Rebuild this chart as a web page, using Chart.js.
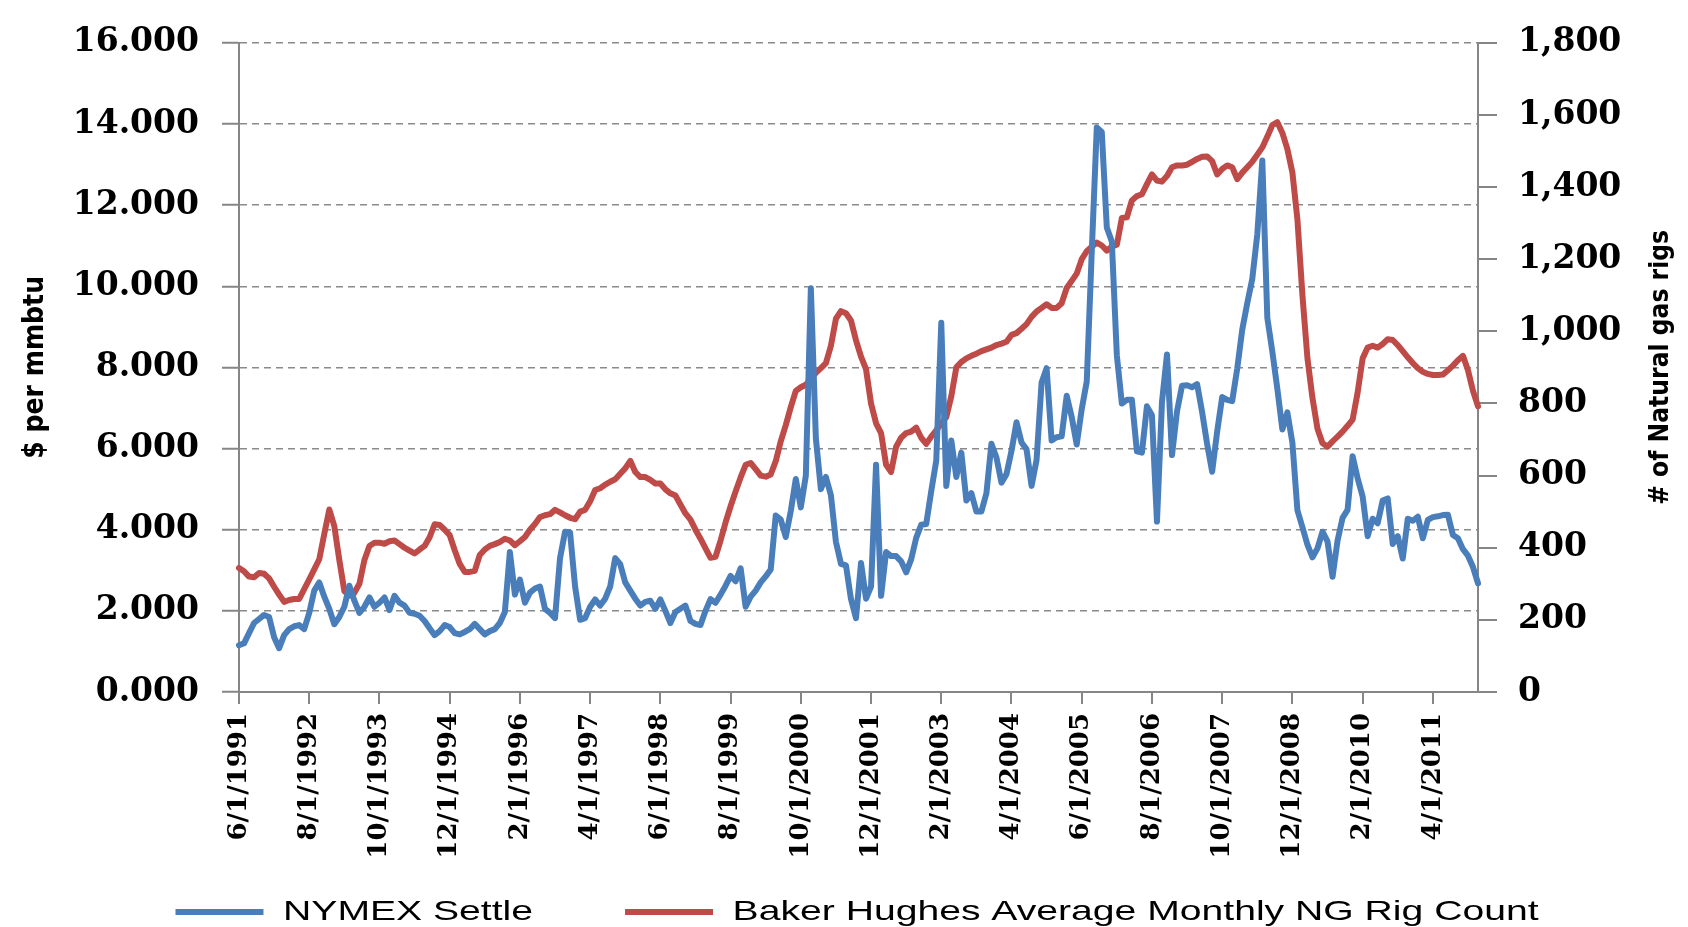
<!DOCTYPE html>
<html>
<head>
<meta charset="utf-8">
<title>NYMEX Settle vs Baker Hughes NG Rig Count</title>
<script src="https://cdn.jsdelivr.net/npm/chart.js@4.4.1/dist/chart.umd.min.js"></script>
<style>
  html, body { margin: 0; padding: 0; background: #ffffff; overflow: hidden; }
  #wrap { width: 1688px; height: 927px; }
  canvas { display: block; }
</style>
</head>
<body>
<div id="wrap"><canvas id="chart" width="1688" height="927"></canvas></div>
<script>
// ---------------- data ----------------
// monthly categories, 6/1/1991 ... 1/1/2012
const startYear = 1991, startMonth = 6, monthCount = 248;
const months = [];
for (let k = 0; k < monthCount; k++) {
  const m = (startMonth - 1 + k) % 12 + 1;
  const y = startYear + Math.floor((startMonth - 1 + k) / 12);
  months.push(m + '/1/' + y);
}

// category labels shown on the x axis
const xTickLabels = ['6/1/1991', '8/1/1992', '10/1/1993', '12/1/1994', '2/1/1996', '4/1/1997',
  '6/1/1998', '8/1/1999', '10/1/2000', '12/1/2001', '2/1/2003', '4/1/2004', '6/1/2005',
  '8/1/2006', '10/1/2007', '12/1/2008', '2/1/2010', '4/1/2011'];

const seriesNames = ['NYMEX Settle', 'Baker Hughes Average Monthly NG Rig Count'];
const leftAxisTitle = '$ per mmbtu';
const rightAxisTitle = '# of Natural gas rigs';

// $ per mmbtu (left axis)
const nymexSettle = [
  1.15, 1.2, 1.45, 1.7, 1.8, 1.9, 1.85,                               // 1991 Jun-Dec
  1.35, 1.08, 1.4, 1.55, 1.62, 1.65, 1.55, 1.95, 2.5, 2.7, 2.35, 2.05,  // 1992
  1.67, 1.85, 2.1, 2.62, 2.25, 1.95, 2.1, 2.33, 2.1, 2.2, 2.33, 2.02,   // 1993
  2.37, 2.2, 2.13, 1.95, 1.93, 1.88, 1.75, 1.57, 1.4, 1.5, 1.65, 1.6,   // 1994
  1.45, 1.42, 1.48, 1.55, 1.68, 1.55, 1.42, 1.5, 1.55, 1.7, 1.97, 3.45, // 1995
  2.4, 2.77, 2.2, 2.45, 2.55, 2.6, 2.05, 1.95, 1.82, 3.3, 3.95, 3.93,   // 1996
  2.6, 1.78, 1.82, 2.1, 2.28, 2.13, 2.3, 2.6, 3.3, 3.15, 2.7, 2.5,      // 1997
  2.3, 2.13, 2.22, 2.25, 2.05, 2.28, 2.0, 1.7, 1.97, 2.05, 2.13, 1.75,  // 1998
  1.68, 1.65, 2.0, 2.29, 2.2, 2.4, 2.62, 2.86, 2.73, 3.05, 2.1, 2.35,   // 1999
  2.5, 2.7, 2.85, 3.02, 4.35, 4.25, 3.82, 4.46, 5.25, 4.55, 5.33, 9.95, // 2000
  6.25, 5.0, 5.3, 4.85, 3.7, 3.16, 3.12, 2.29, 1.82, 3.18, 2.3, 2.6,    // 2001
  5.6, 2.37, 3.45, 3.35, 3.35, 3.22, 2.95, 3.27, 3.8, 4.12, 4.14, 4.95, // 2002
  5.7, 9.1, 5.08, 6.2, 5.3, 5.9, 4.72, 4.9, 4.45, 4.45, 4.9, 6.12,      // 2003
  5.78, 5.16, 5.37, 5.94, 6.65, 6.15, 5.98, 5.08, 5.72, 7.63, 7.98, 6.2, // 2004
  6.28, 6.3, 7.3, 6.78, 6.1, 6.97, 7.65, 10.85, 13.91, 13.8, 11.45, 11.1, // 2005
  8.3, 7.11, 7.2, 7.2, 5.93, 5.9, 7.04, 6.82, 4.2, 7.15, 8.32, 5.84,    // 2006
  6.92, 7.55, 7.56, 7.51, 7.59, 6.9, 6.11, 5.43, 6.42, 7.27, 7.2, 7.17, // 2007
  7.97, 8.93, 9.58, 10.18, 11.28, 13.1, 9.22, 8.39, 7.47, 6.47, 6.89, 6.14, // 2008
  4.48, 4.06, 3.63, 3.32, 3.54, 3.95, 3.71, 2.84, 3.73, 4.29, 4.49, 5.81, // 2009
  5.27, 4.82, 3.84, 4.27, 4.16, 4.72, 4.77, 3.65, 3.84, 3.29, 4.27, 4.22, // 2010
  4.32, 3.79, 4.24, 4.31, 4.33, 4.36, 4.37, 3.87, 3.79, 3.52, 3.36, 3.08, // 2011
  2.68                                                                 // 2012 Jan
];

// # of natural gas rigs (right axis)
const rigCount = [
  344, 335, 320, 318, 330, 328, 315,                                   // 1991 Jun-Dec
  292, 270, 250, 255, 258, 258, 285, 312, 340, 368, 438, 506,          // 1992
  460, 366, 280, 267, 275, 300, 366, 405, 414, 414, 411, 418,          // 1993
  420, 410, 400, 392, 384, 395, 405, 429, 465, 463, 450, 435,          // 1994
  393, 355, 333, 333, 336, 380, 395, 405, 410, 416, 425, 420,          // 1995
  407, 418, 430, 450, 466, 485, 490, 493, 505, 498, 490, 483,          // 1996
  479, 500, 505, 529, 560, 565, 575, 583, 590, 605, 620, 641,          // 1997
  610, 596, 596, 588, 578, 578, 562, 551, 545, 520, 495, 478,          // 1998
  450, 425, 398, 372, 375, 420, 470, 515, 556, 595, 630, 635,          // 1999
  618, 600, 597, 603, 640, 695, 740, 790, 835, 845, 852, 868,          // 2000
  885, 898, 912, 960, 1035, 1056, 1050, 1030, 975, 930, 895, 800,      // 2001
  745, 718, 630, 610, 680, 705, 718, 722, 733, 705, 688, 708,          // 2002
  725, 745, 762, 820, 900, 915, 925, 932, 938, 945, 950, 955,          // 2003
  962, 966, 971, 990, 995, 1007, 1020, 1040, 1055, 1065, 1075, 1065,   // 2004
  1065, 1078, 1120, 1140, 1160, 1200, 1222, 1235, 1246, 1238, 1224, 1235, // 2005
  1240, 1314, 1316, 1363, 1375, 1380, 1408, 1435, 1418, 1415, 1431, 1455, // 2006
  1460, 1460, 1462, 1470, 1478, 1484, 1485, 1472, 1435, 1450, 1460, 1455, // 2007
  1422, 1440, 1455, 1470, 1490, 1510, 1540, 1572, 1580, 1550, 1505, 1440, // 2008
  1310, 1100, 925, 815, 730, 690, 680, 695, 708, 722, 738, 755,        // 2009
  830, 925, 955, 960, 955, 965, 978, 976, 962, 945, 928, 912,          // 2010
  898, 888, 882, 879, 879, 880, 892, 905, 920, 932, 892, 835,          // 2011
  792                                                                  // 2012 Jan
];

// ---------------- style / layout ----------------
const BLUE = '#4a7ebb', RED = '#be4b48', AXIS_GRAY = '#868686', GRID_GRAY = '#8a8a8a';
const CW = 1688, CH = 927;
const PLOT = { left: 239, right: 1478, top: 27, bottom: 692 };
const TITLE_FAMILY = "'Liberation Sans Narrow', 'DejaVu Sans Condensed', 'Liberation Sans', sans-serif";
const TICK_FAMILY = "'DejaVu Serif', 'Liberation Serif', serif";
const LEGEND_FAMILY = "'Liberation Sans', Arial, sans-serif";

const mctx = document.createElement('canvas').getContext('2d');
function widthAt(text, font) { mctx.font = font; return mctx.measureText(text).width; }
function sizeForWidth(text, weight, family, target) {
  return 100 * target / widthAt(text, weight + ' 100px ' + family);
}
const leftTitleSize = sizeForWidth(leftAxisTitle, 'bold', TITLE_FAMILY, 183);
const rightTitleSize = sizeForWidth(rightAxisTitle, 'bold', TITLE_FAMILY, 275);
const LEFT_TITLE_X = 36, RIGHT_TITLE_INSET = 27;

const LEGEND_SIZE = 28;
const legendStretch = 250 / widthAt(seriesNames[0], LEGEND_SIZE + 'px ' + LEGEND_FAMILY);
const LEGEND_PAD = 92 / legendStretch;
const LEGEND_CENTER_X = 857;
const LEGEND_TEXT_Y = 912;
const LEGEND_BOX_H = 40;                     // space reserved below the x axis
const xAxisHeight = CH - LEGEND_BOX_H - PLOT.bottom;

const tickShown = (c) => !!(c && c.tick && xTickLabels.includes(months[c.tick.value]));

// legend drawn by Chart.js, widened horizontally like the source and placed at the bottom edge
const legendStretchPlugin = {
  id: 'legendStretch',
  afterInit(chart) {
    const lg = chart.legend;
    if (!lg || lg._stretched) return;
    const orig = lg.draw;
    lg.draw = function () {
      const c = this.ctx;
      const cx = (this.left + this.right) / 2;
      const textY = this.top + LEGEND_PAD + LEGEND_SIZE / 2;
      c.save();
      c.translate(LEGEND_CENTER_X, LEGEND_TEXT_Y - textY);
      c.scale(legendStretch, 1);
      c.translate(-cx, 0);
      c.clip = function () {};
      try { orig.apply(this, arguments); } finally { delete c.clip; }
      c.restore();
    };
    lg._stretched = true;
  }
};

// right axis title reads bottom-to-top in the source
const rightTitlePlugin = {
  id: 'rightTitle',
  afterDraw(chart) {
    const s = chart.scales.y1;
    const c = chart.ctx;
    c.save();
    c.translate(s.right - RIGHT_TITLE_INSET, (s.top + s.bottom) / 2);
    c.rotate(-Math.PI / 2);
    c.font = 'bold ' + rightTitleSize + 'px ' + TITLE_FAMILY;
    c.fillStyle = '#000';
    c.textAlign = 'center';
    c.textBaseline = 'middle';
    c.fillText(rightAxisTitle, 0, 0);
    c.restore();
  }
};

new Chart(document.getElementById('chart'), {
  type: 'line',
  data: {
    labels: months,
    datasets: [
      {
        label: seriesNames[0], data: nymexSettle, yAxisID: 'y',
        borderColor: BLUE, backgroundColor: BLUE, borderWidth: 6,
        pointRadius: 0, tension: 0, borderJoinStyle: 'round', borderCapStyle: 'round'
      },
      {
        label: seriesNames[1], data: rigCount, yAxisID: 'y1',
        borderColor: RED, backgroundColor: RED, borderWidth: 6,
        pointRadius: 0, tension: 0, borderJoinStyle: 'round', borderCapStyle: 'round'
      }
    ]
  },
  options: {
    responsive: false,
    devicePixelRatio: 1,
    animation: false,
    events: [],
    layout: { padding: { top: PLOT.top, left: 0, right: 0, bottom: 0 } },
    plugins: {
      tooltip: { enabled: false },
      title: { display: false },
      legend: {
        display: true,
        position: 'bottom',
        maxHeight: LEGEND_BOX_H,
        labels: {
          color: '#000',
          font: { family: LEGEND_FAMILY, size: LEGEND_SIZE },
          boxWidth: 88 / legendStretch,
          boxHeight: 6,
          padding: LEGEND_PAD,
          generateLabels(chart) {
            const items = Chart.defaults.plugins.legend.labels.generateLabels(chart);
            items.forEach(it => { it.fillStyle = it.strokeStyle; it.lineWidth = 0; });
            return items;
          }
        }
      }
    },
    scales: {
      x: {
        type: 'category',
        offset: false,
        afterFit(s) { s.height = xAxisHeight; },
        grid: {
          drawOnChartArea: false, drawTicks: true, tickLength: 12,
          lineWidth: 2, tickWidth: 2,
          color: (c) => tickShown(c) ? AXIS_GRAY : 'rgba(0,0,0,0)',
          tickColor: (c) => tickShown(c) ? AXIS_GRAY : 'rgba(0,0,0,0)'
        },
        border: { display: true, color: AXIS_GRAY, width: 2 },
        ticks: {
          autoSkip: false, maxRotation: 90, minRotation: 90, padding: 9,
          color: '#000',
          font: { family: TICK_FAMILY, size: 26, weight: 'bold' },
          callback(value) {
            const l = this.getLabelForValue(value);
            return xTickLabels.includes(l) ? l : '';
          }
        }
      },
      y: {
        position: 'left',
        min: 0, max: 16,
        afterFit(s) { s.width = PLOT.left; },
        grid: {
          drawOnChartArea: true, drawTicks: true, tickLength: 17,
          color: GRID_GRAY, lineWidth: 1.5,
          tickColor: AXIS_GRAY, tickWidth: 2, tickBorderDash: []
        },
        border: { display: true, color: AXIS_GRAY, width: 2, dash: [7, 5] },
        ticks: {
          stepSize: 2, padding: 23, color: '#000',
          font: { family: TICK_FAMILY, size: 33, weight: 'bold' },
          callback: (v) => Number(v).toFixed(3)
        },
        title: {
          display: true, text: leftAxisTitle, color: '#000',
          font: { family: TITLE_FAMILY, weight: 'bold', size: leftTitleSize, lineHeight: 1.2 },
          padding: { top: LEFT_TITLE_X - 0.6 * leftTitleSize, bottom: 0 }
        }
      },
      y1: {
        position: 'right',
        min: 0, max: 1800,
        afterFit(s) { s.width = CW - PLOT.right; },
        grid: {
          drawOnChartArea: false, drawTicks: true, tickLength: 19,
          color: AXIS_GRAY, lineWidth: 2, tickColor: AXIS_GRAY, tickWidth: 2
        },
        border: { display: true, color: AXIS_GRAY, width: 2 },
        ticks: {
          stepSize: 200, padding: 21, color: '#000',
          font: { family: TICK_FAMILY, size: 33, weight: 'bold' },
          callback: (v) => Number(v).toLocaleString('en-US')
        },
        title: { display: false, text: rightAxisTitle }
      }
    }
  },
  plugins: [legendStretchPlugin, rightTitlePlugin]
});
</script>
</body>
</html>
